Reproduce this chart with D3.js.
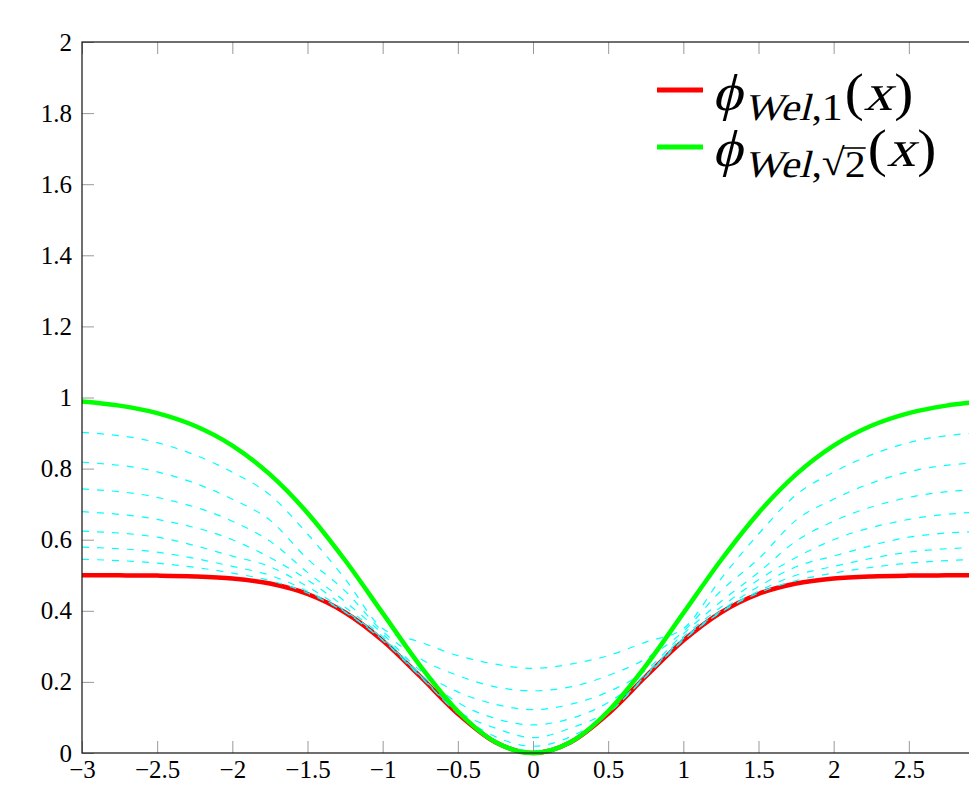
<!DOCTYPE html>
<html>
<head>
<meta charset="utf-8">
<script src="https://cdn.jsdelivr.net/npm/d3@7"></script>
<style>
body { margin: 0; background: #fff; }
</style>
</head>
<body>
<script>
// sample positions for the two solid curves
var xFine = [-3, -2.75, -2.5, -2.25, -2, -1.75, -1.5, -1.25, -1, -0.75, -0.5, -0.25, 0,
             0.25, 0.5, 0.75, 1, 1.25, 1.5, 1.75, 2, 2.25, 2.5, 2.75, 3];
var welsch1 = [0.5, 0.4997, 0.499, 0.4968, 0.4908, 0.4766, 0.4473, 0.3952, 0.3161, 0.2152, 0.1106, 0.0303, 0,
               0.0303, 0.1106, 0.2152, 0.3161, 0.3952, 0.4473, 0.4766, 0.4908, 0.4968, 0.499, 0.4997, 0.5];
var welschSqrt2 = [0.9889, 0.9772, 0.9561, 0.9204, 0.8647, 0.7837, 0.6753, 0.5422, 0.3935, 0.2452, 0.1175, 0.0308, 0,
                   0.0308, 0.1175, 0.2452, 0.3935, 0.5422, 0.6753, 0.7837, 0.8647, 0.9204, 0.9561, 0.9772, 0.9889];

// sample positions for the dashed family
var xDash = [-3, -2.5, -2, -1.75, -1.5, -1.25, -1, -0.75, -0.5, -0.25, 0,
             0.25, 0.5, 0.75, 1, 1.25, 1.5, 1.75, 2, 2.5, 3];
var dash1 = [0.902, 0.873, 0.79, 0.726, 0.616, 0.49, 0.35, 0.312, 0.274, 0.25, 0.238,
             0.25, 0.274, 0.312, 0.35, 0.49, 0.616, 0.726, 0.79, 0.873, 0.902];
var dash2 = [0.818, 0.791, 0.714, 0.655, 0.546, 0.456, 0.342, 0.265, 0.218, 0.186, 0.175,
             0.186, 0.218, 0.265, 0.342, 0.456, 0.546, 0.655, 0.714, 0.791, 0.818];
var dash3 = [0.743, 0.719, 0.652, 0.596, 0.508, 0.426, 0.335, 0.232, 0.172, 0.137, 0.122,
             0.137, 0.172, 0.232, 0.335, 0.426, 0.508, 0.596, 0.652, 0.719, 0.743];
var dash4 = [0.679, 0.657, 0.6, 0.55, 0.487, 0.41, 0.327, 0.222, 0.142, 0.097, 0.079,
             0.097, 0.142, 0.222, 0.327, 0.41, 0.487, 0.55, 0.6, 0.657, 0.679];
var dash5 = [0.624, 0.607, 0.554, 0.524, 0.468, 0.4, 0.322, 0.218, 0.118, 0.07, 0.043,
             0.07, 0.118, 0.218, 0.322, 0.4, 0.468, 0.524, 0.554, 0.607, 0.624];
var dash6 = [0.579, 0.565, 0.525, 0.5, 0.455, 0.397, 0.318, 0.216, 0.112, 0.046, 0.019,
             0.046, 0.112, 0.216, 0.318, 0.397, 0.455, 0.5, 0.525, 0.565, 0.579];
var dash7 = [0.545, 0.534, 0.506, 0.485, 0.45, 0.396, 0.317, 0.215, 0.111, 0.034, 0.006,
             0.034, 0.111, 0.215, 0.317, 0.396, 0.45, 0.485, 0.506, 0.534, 0.545];

var xTicks = [-3, -2.5, -2, -1.5, -1, -0.5, 0, 0.5, 1, 1.5, 2, 2.5, 3];
var xTickLabels = [-3, -2.5, -2, -1.5, -1, -0.5, 0, 0.5, 1, 1.5, 2, 2.5];
var yTicks = [0, 0.2, 0.4, 0.6, 0.8, 1, 1.2, 1.4, 1.6, 1.8, 2];

var W = 969, H = 794;
var LEFT = 82, TOP = 42, PLOT_W = 902, PLOT_H = 711;
var FONT = "'Liberation Serif', 'DejaVu Serif', serif";

var svg = d3.select("body").append("svg")
    .attr("width", W)
    .attr("height", H);

var x = d3.scaleLinear().domain([-3, 3]).range([LEFT, LEFT + PLOT_W]);
var y = d3.scaleLinear().domain([0, 2]).range([TOP + PLOT_H, TOP]);

svg.append("clipPath").attr("id", "plotclip")
  .append("rect")
    .attr("x", LEFT).attr("y", TOP - 5)
    .attr("width", PLOT_W).attr("height", PLOT_H + 10);

function fmt(d) { return d3.format("")(d).replace("-", "\u2212"); }

// axes, ticks pointing inside
var axBottom = svg.append("g")
    .attr("transform", "translate(0," + (TOP + PLOT_H) + ")")
    .call(d3.axisBottom(x).tickValues(xTicks).tickSizeInner(-12).tickSizeOuter(0).tickFormat(""));
var axBottomLabels = svg.append("g")
    .attr("transform", "translate(0," + (TOP + PLOT_H) + ")")
    .call(d3.axisBottom(x).tickValues(xTickLabels).tickSizeInner(0).tickSizeOuter(0).tickPadding(7).tickFormat(fmt));
var axTop = svg.append("g")
    .attr("transform", "translate(0," + TOP + ")")
    .call(d3.axisTop(x).tickValues(xTicks).tickSizeInner(-12).tickSizeOuter(0).tickFormat(""));
var axLeft = svg.append("g")
    .attr("transform", "translate(" + LEFT + ",0)")
    .call(d3.axisLeft(y).tickValues(yTicks).tickSizeInner(-12).tickSizeOuter(0).tickPadding(10).tickFormat(fmt));
var axRight = svg.append("g")
    .attr("transform", "translate(" + (LEFT + PLOT_W) + ",0)")
    .call(d3.axisRight(y).tickValues(yTicks).tickSizeInner(-12).tickSizeOuter(0).tickFormat(""));

[axBottom, axBottomLabels, axTop, axLeft, axRight].forEach(function(g) {
    g.select(".domain").remove();
    g.selectAll(".tick line").attr("stroke", "#999").attr("stroke-width", 1);
    g.selectAll(".tick text")
        .attr("fill", "#000")
        .style("font-family", FONT)
        .style("font-size", "25px");
});
axBottomLabels.selectAll(".tick line").remove();

// curves
var line = d3.line()
    .x(function(d) { return x(d[0]); })
    .y(function(d) { return y(d[1]); })
    .curve(d3.curveMonotoneX);

var curves = svg.append("g").attr("clip-path", "url(#plotclip)");

curves.append("path")
    .datum(d3.zip(xFine, welsch1))
    .attr("d", line)
    .attr("fill", "none")
    .attr("stroke", "#ff0000")
    .attr("stroke-width", 4.5);

var dashSeries = [dash1, dash2, dash3, dash4, dash5, dash6, dash7];
curves.selectAll(".dash")
    .data(dashSeries)
    .enter().append("path")
    .attr("class", "dash")
    .attr("d", function(d) { return line(d3.zip(xDash, d)); })
    .attr("fill", "none")
    .attr("stroke", "#00ffff")
    .attr("stroke-width", 1.2)
    .attr("stroke-dasharray", "7,8");

curves.append("path")
    .datum(d3.zip(xFine, welschSqrt2))
    .attr("d", line)
    .attr("fill", "none")
    .attr("stroke", "#00ff00")
    .attr("stroke-width", 4.5);

// frame
svg.append("rect")
    .attr("x", LEFT).attr("y", TOP)
    .attr("width", PLOT_W).attr("height", PLOT_H)
    .attr("fill", "none")
    .attr("stroke", "#222")
    .attr("stroke-width", 1.3);

// legend: math typeset piece by piece, italic faked with a skew
var MAIN = 52, SUB = 38, STRETCH = 1.1;
var legendItems = [
    { color: "#ff0000", y: 90, base: 110, pieces: [
        { s: "\u03d5", size: MAIN, it: true, gap: 2 },
        { s: "Wel", size: SUB, it: true, dy: 10, gap: 1 },
        { s: ",", size: SUB, dy: 10 },
        { s: "1", size: SUB, dy: 10, gap: 2 },
        { s: "(", size: MAIN },
        { s: "x", size: MAIN, it: true, gap: 2 },
        { s: ")", size: MAIN }
    ]},
    { color: "#00ff00", y: 147, base: 166, pieces: [
        { s: "\u03d5", size: MAIN, it: true, gap: 2 },
        { s: "Wel", size: SUB, it: true, dy: 11, gap: 1 },
        { s: ",", size: SUB, dy: 11 },
        { s: "\u221a", size: SUB, dy: 9 },
        { s: "2", size: SUB, dy: 11, over: true, gap: 2 },
        { s: "(", size: MAIN },
        { s: "x", size: MAIN, it: true, gap: 2 },
        { s: ")", size: MAIN }
    ]}
];

var legend = svg.append("g");
legendItems.forEach(function(it) {
    legend.append("line")
        .attr("x1", 657).attr("x2", 703)
        .attr("y1", it.y).attr("y2", it.y)
        .attr("stroke", it.color)
        .attr("stroke-width", 5);
    var cx = 712;
    it.pieces.forEach(function(p) {
        var by = it.base + (p.dy || 0);
        var t = legend.append("text")
            .attr("transform", "translate(" + cx + "," + by + ")" + (p.it ? " skewX(-14)" : "") + " scale(" + STRETCH + ",1)")
            .style("font-family", FONT)
            .style("font-size", p.size + "px")
            .attr("fill", "#000")
            .text(p.s);
        var w = t.node().getComputedTextLength() * STRETCH;
        if (p.over) {
            legend.append("line")
                .attr("x1", cx - 2).attr("x2", cx + w)
                .attr("y1", by - 29).attr("y2", by - 29)
                .attr("stroke", "#000").attr("stroke-width", 1.6);
        }
        cx += w + (p.gap || 0);
    });
});
</script>
</body>
</html>
